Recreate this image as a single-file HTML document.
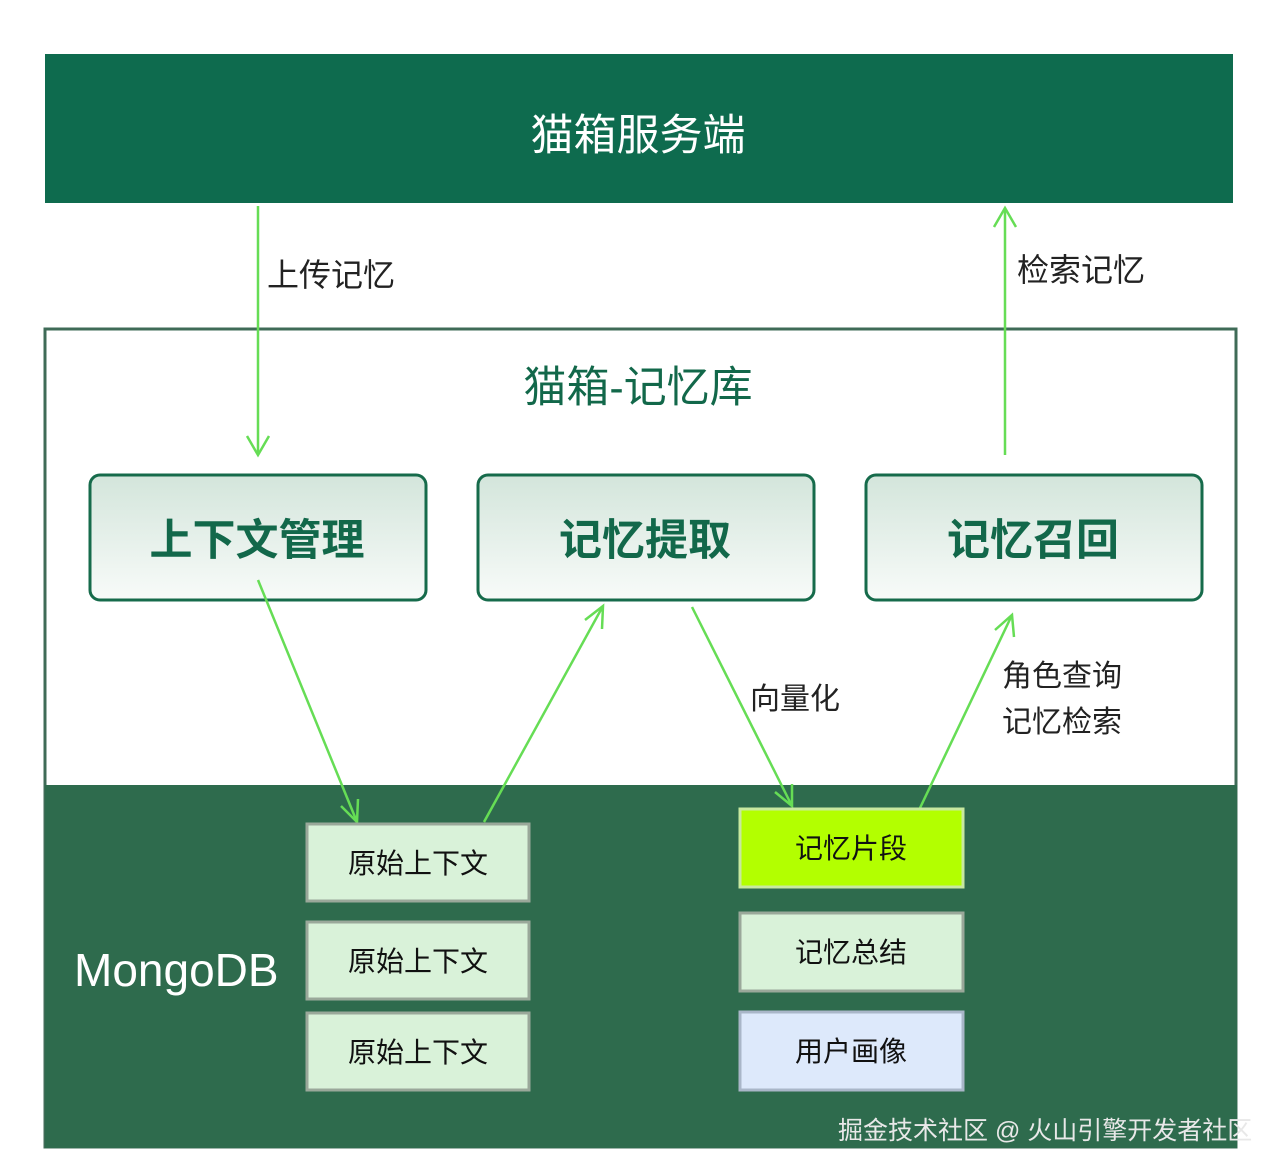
<!DOCTYPE html>
<html><head><meta charset="utf-8"><style>
html,body{margin:0;padding:0;background:#fff;}
svg{display:block;}
text{font-family:"Liberation Sans","Noto Sans CJK SC",sans-serif;}
</style></head><body>
<svg width="1278" height="1174" viewBox="0 0 1278 1174" xmlns="http://www.w3.org/2000/svg">
<defs>
<linearGradient id="g" x1="0" y1="0" x2="0" y2="1">
<stop offset="0" stop-color="#d3e5db"/><stop offset="1" stop-color="#f8fbf9"/>
</linearGradient>
</defs>
<rect x="45" y="54" width="1188" height="149" fill="#0e6b4e"/>
<text x="638" y="150" font-size="43" fill="#fff" text-anchor="middle">猫箱服务端</text>

<rect x="45" y="329" width="1191" height="818" fill="#fff" stroke="#3f6b57" stroke-width="3"/>
<rect x="45" y="785" width="1192" height="363" fill="#2e6b4d"/>
<text x="638" y="402" font-size="43" fill="#12684a" text-anchor="middle">猫箱-记忆库</text>

<g stroke="#166b4b" stroke-width="3" fill="url(#g)">
<rect x="90" y="475" width="336" height="125" rx="10"/>
<rect x="478" y="475" width="336" height="125" rx="10"/>
<rect x="866" y="475" width="336" height="125" rx="10"/>
</g>
<g font-size="43" font-weight="bold" fill="#12684a" text-anchor="middle">
<text x="257" y="555">上下文管理</text>
<text x="645" y="555">记忆提取</text>
<text x="1033" y="555">记忆召回</text>
</g>

<g stroke="#66dd55" stroke-width="2.5" fill="none">
<line x1="258" y1="206" x2="258" y2="455"/><polyline points="247,436 258,455 269,436"/>
<line x1="1005" y1="455" x2="1005" y2="208"/><polyline points="994,227 1005,208 1016,227"/>
<line x1="258" y1="580" x2="357" y2="822"/><polyline points="341,806 357,822 358,799"/>
<line x1="484" y1="822" x2="603" y2="606"/><polyline points="585,620 603,606 602,629"/>
<line x1="692" y1="607" x2="792" y2="806"/><polyline points="775,792 792,806 792,784"/>
<line x1="920" y1="808" x2="1012" y2="615"/><polyline points="995,630 1012,615 1014,637"/>
</g>
<g font-size="32" fill="#222">
<text x="267" y="286">上传记忆</text>
<text x="1017" y="281">检索记忆</text>
<text x="750" y="709" font-size="30">向量化</text>
<text x="1002" y="686" font-size="30">角色查询</text>
<text x="1002" y="732" font-size="30">记忆检索</text>
</g>

<g stroke="#9aa89a" stroke-width="3">
<rect x="307" y="824" width="222" height="77" fill="#d9f2d9"/>
<rect x="307" y="922" width="222" height="77" fill="#d9f2d9"/>
<rect x="307" y="1013" width="222" height="77" fill="#d9f2d9"/>
<rect x="740" y="809" width="223" height="78" fill="#b3ff00" stroke="#c8e8a0"/>
<rect x="740" y="913" width="223" height="78" fill="#d9f2d9"/>
<rect x="740" y="1012" width="223" height="78" fill="#dde9fb" stroke="#a9b6c8"/>
</g>
<g font-size="28" fill="#111" text-anchor="middle">
<text x="418" y="873">原始上下文</text>
<text x="418" y="971">原始上下文</text>
<text x="418" y="1062">原始上下文</text>
<text x="851" y="858">记忆片段</text>
<text x="851" y="962">记忆总结</text>
<text x="851" y="1061">用户画像</text>
</g>
<text x="74" y="986" font-size="46" fill="#fff">MongoDB</text>
<text x="838" y="1139" font-size="25" fill="#e8e8e8">掘金技术社区 @ 火山引擎开发者社区</text>
</svg>
</body></html>
